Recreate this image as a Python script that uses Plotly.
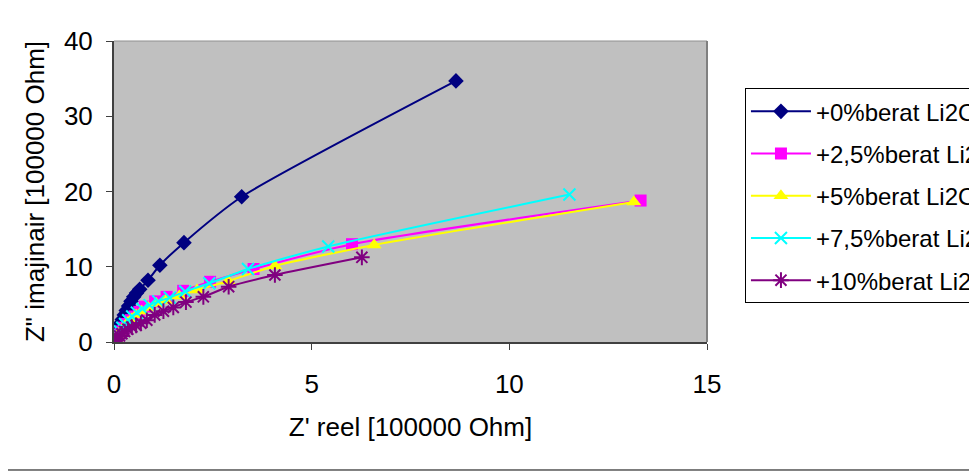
import plotly.graph_objects as go

names = ["+0%berat Li2O", "+2,5%berat Li2O", "+5%berat Li2O", "+7,5%berat Li2O", "+10%berat Li2O"]

x0 = [0.03, 0.06, 0.09, 0.13, 0.17, 0.21, 0.26, 0.31, 0.37, 0.43, 0.50, 0.57, 0.65, 0.86, 1.16, 1.77, 3.23, 8.65]
y0 = [0.5, 1.0, 1.5, 2.0, 2.5, 3.0, 3.6, 4.2, 4.8, 5.4, 6.0, 6.5, 7.0, 8.2, 10.2, 13.2, 19.3, 34.7]

x25 = [0.03, 0.07, 0.12, 0.18, 0.25, 0.33, 0.42, 0.52, 0.64, 0.78, 1.04, 1.33, 1.75, 2.43, 3.53, 6.02, 13.32]
y25 = [0.3, 0.6, 1.0, 1.4, 1.9, 2.4, 2.9, 3.4, 4.0, 4.7, 5.4, 6.0, 6.8, 8.0, 9.7, 13.0, 18.8]

x5 = [0.02, 0.05, 0.09, 0.14, 0.20, 0.27, 0.35, 0.45, 0.56, 0.70, 0.87, 1.07, 1.30, 1.65, 2.10, 2.89, 4.07, 6.58, 13.15]
y5 = [0.2, 0.5, 0.8, 1.2, 1.6, 2.1, 2.6, 3.1, 3.6, 4.1, 4.6, 5.1, 5.5, 6.1, 6.9, 8.1, 10.1, 12.9, 18.6]

x75 = [0.03, 0.06, 0.10, 0.15, 0.21, 0.28, 0.36, 0.46, 0.58, 0.72, 0.90, 1.12, 1.41, 1.80, 2.41, 3.39, 5.42, 11.52]
y75 = [0.3, 0.6, 1.0, 1.4, 1.9, 2.4, 2.9, 3.4, 3.9, 4.4, 4.9, 5.4, 5.9, 6.7, 7.8, 9.7, 12.7, 19.6]

x10 = [0.02, 0.05, 0.09, 0.14, 0.20, 0.27, 0.35, 0.45, 0.56, 0.68, 0.83, 1.03, 1.25, 1.50, 1.82, 2.26, 2.90, 4.07, 6.27]
y10 = [0.1, 0.3, 0.5, 0.8, 1.1, 1.4, 1.7, 2.0, 2.2, 2.5, 2.9, 3.6, 4.1, 4.6, 5.3, 6.0, 7.35, 8.9, 11.25]

x_ticks = [0, 5, 10, 15]
y_ticks = [0, 10, 20, 30, 40]

series = [
    (x0, y0, "#000080", "diamond", 12, 0),
    (x25, y25, "#FF00FF", "square", 12, 0),
    (x5, y5, "#FFFF00", "triangle-up", 13, 0),
    (x75, y75, "#00FFFF", "x-thin-open", 12, 2),
    (x10, y10, "#800080", "asterisk-open", 13, 2),
]

fig = go.Figure()
for i, (xs, ys, col, sym, sz, lw) in enumerate(series):
    fig.add_trace(go.Scatter(
        x=xs, y=ys, name=names[i], mode="lines+markers",
        line=dict(color=col, width=2, shape="spline", smoothing=0.6),
        marker=dict(symbol=sym, size=sz, color=col, line=dict(color=col, width=lw)),
        legendgroup=f"g{i}",
    ))

font_family = "Liberation Sans, Arial, sans-serif"

fig.update_layout(
    width=977, height=475,
    margin=dict(l=106, r=278, t=33, b=141, autoexpand=False),
    paper_bgcolor="white",
    plot_bgcolor="#C0C0C0",
    font=dict(family=font_family, size=26, color="black"),
    showlegend=True,
    legend=dict(
        x=1.064, y=0.843, xanchor="left", yanchor="top",
        bgcolor="white", bordercolor="black", borderwidth=1,
        font=dict(size=24, family=font_family),
        traceorder="grouped", tracegroupgap=8,
        itemwidth=60,
    ),
    xaxis=dict(
        range=[0, 15], tickvals=x_ticks, ticktext=[str(v) for v in x_ticks],
        showgrid=False, zeroline=False,
        showline=True, linecolor="#404040", linewidth=2,
        ticks="outside", ticklen=6, tickcolor="#404040", tickwidth=1,
        ticklabelstandoff=12,
        title=dict(text="Z' reel [100000 Ohm]", font=dict(size=26), standoff=20),
    ),
    yaxis=dict(
        range=[0, 40], tickvals=y_ticks, ticktext=[str(v) for v in y_ticks],
        showgrid=False, zeroline=False,
        showline=True, linecolor="#404040", linewidth=2,
        ticks="outside", ticklen=6, tickcolor="#404040", tickwidth=1,
        ticklabelstandoff=8,
        title=dict(text='Z" imajinair [100000 Ohm]', font=dict(size=26), standoff=12),
    ),
    shapes=[
        dict(type="line", xref="paper", yref="paper", x0=0, x1=1, y0=1, y1=1,
             line=dict(color="#909090", width=1)),
        dict(type="line", xref="paper", yref="paper", x0=1, x1=1, y0=0, y1=1,
             line=dict(color="#808080", width=2)),
        dict(type="line", xref="paper", yref="paper", x0=-0.4, x1=1.5, y0=-0.4252, y1=-0.4252,
             line=dict(color="black", width=1)),
    ],
)

fig.write_html("out.html")
